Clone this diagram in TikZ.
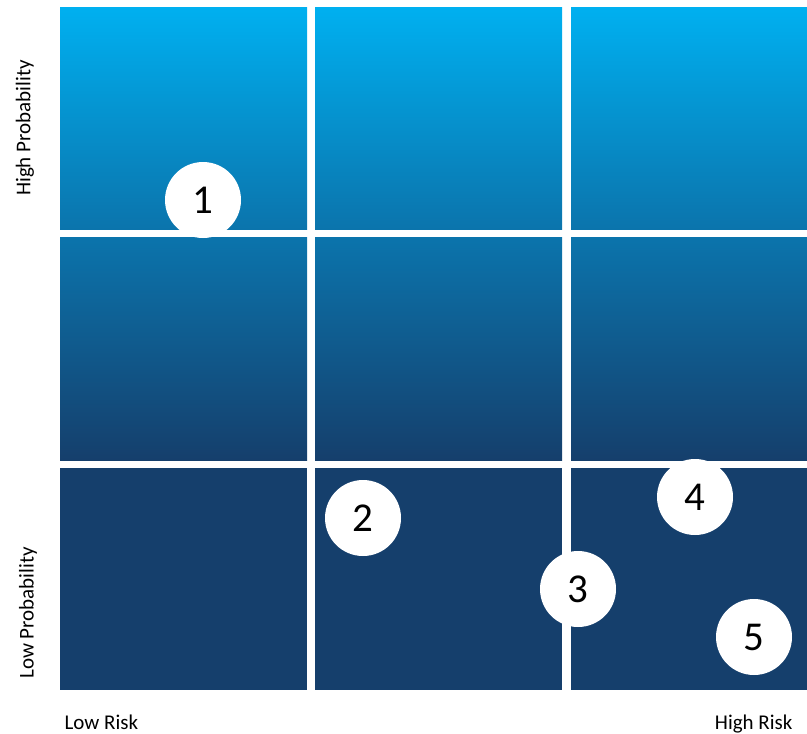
\documentclass[tikz,border=0pt]{standalone}
\usepackage{fontspec}
\setmainfont{Carlito}
\definecolor{skytop}{RGB}{0,176,240}
\definecolor{skymid}{RGB}{11,116,172}
\definecolor{navy}{RGB}{21,63,108}
\begin{document}
\begin{tikzpicture}[x=1pt, y=-1pt,
        toprow/.style={top color=skytop, bottom color=skymid},
        midrow/.style={top color=skymid, bottom color=navy},
        lowrow/.style={fill=navy},
        risk/.style={circle, fill=white, minimum size=76pt, inner sep=0pt, font=\fontsize{41}{41}\selectfont},
        axis/.style={font=\fontsize{21}{21}\selectfont}]
        \useasboundingbox (0,0) rectangle (807,734);
        % ---- 3x3 grid ----
        \foreach \xa/\xb in {60/307, 315/562, 571/807} {
          \shade[toprow] (\xa,7) rectangle (\xb,229);
          \shade[midrow] (\xa,237) rectangle (\xb,460);
          \fill[lowrow] (\xa,468) rectangle (\xb,690);
        }
        % ---- risks ----
        \node[risk] (r1) at (203,200) {1};
        \node[risk] (r2) at (363,518) {2};
        \node[risk] (r3) at (578,589) {3};
        \node[risk] (r4) at (695,497) {4};
        \node[risk] (r5) at (754,637) {5};
        % ---- axis labels ----
        \node[axis, rotate=90] (hp) at (25,128) {High Probability};
        \node[axis, rotate=90] (lp) at (28,613) {Low Probability};
        \node[axis, anchor=base west] (lr) at (61,729) {Low Risk};
        \node[axis, anchor=base east] (hr) at (796,729) {High Risk};
\end{tikzpicture}
\end{document}
